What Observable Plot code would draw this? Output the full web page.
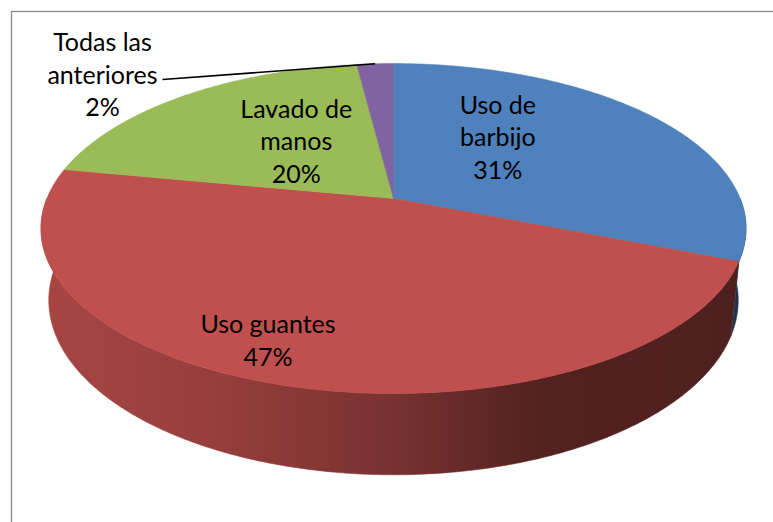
<!DOCTYPE html>
<html><head><meta charset="utf-8">
<script src="https://cdn.jsdelivr.net/npm/d3@7"></script>
<script src="https://cdn.jsdelivr.net/npm/@observablehq/plot@0.6"></script>
<style>
html,body{margin:0;padding:0;background:#fff;overflow:hidden}
#chart svg{display:block}
</style></head><body><div id="chart"></div>
<script>
// ---- data ----
const categories = ["Uso de barbijo", "Uso guantes", "Lavado de manos", "Todas las anteriores"];
const labelLines = [["Uso de", "barbijo"], ["Uso guantes"], ["Lavado de", "manos"], ["Todas las", "anteriores"]];
const values = [31, 47, 20, 2];
const colors = ["#4F81BD", "#C0504D", "#9BBB59", "#8064A2"];

// ---- layout / style ----
const W = 773, H = 522;
const geo = {cx: 393, cy: 198, rx: 346.6, ry: 159.5, k: 0.182, depth: 70, sb: 0.978};
const labelRadius = [0.5, 0.5, 0.5, 1];          // where each label is anchored on the slice
const labelNudge = [[-32, -20], [-72.5, 56.6], [14, -4], [-272.6, 9.7]];
const outside = [false, false, false, true];
const leaderStart = [-212.6, 15.7];              // leader line start relative to slice edge
const shading = [[0, 0.87], [0.25, 0.78], [0.5, 0.62], [0.7, 0.43], [1, 0.40]];
const fontFamily = "Lato, 'Open Sans', sans-serif";

// ---- geometry ----
function proj(t, r = 1) {
  const c = Math.cos(t), s = Math.sin(t);
  const w = 1 - geo.k * r * s;
  return {x: geo.cx + geo.rx * r * c / w, y: geo.cy + geo.ry * r * s / w, w};
}
function projBottom(t) {
  const p = proj(t, 1);
  return {x: geo.cx + (p.x - geo.cx) * geo.sb, y: geo.cy + (p.y - geo.cy) * geo.sb + geo.depth / p.w};
}
const total = d3.sum(values);
let acc = -Math.PI / 2;
const slices = values.map((v, i) => {
  const t0 = acc, t1 = acc + v / total * 2 * Math.PI;
  acc = t1;
  return {i, t0, t1, mid: (t0 + t1) / 2};
});
function arc(t0, t1, f) {
  const n = Math.max(2, Math.ceil(Math.abs(t1 - t0) / (Math.PI / 360)));
  return d3.range(n + 1).map(j => f(t0 + (t1 - t0) * j / n));
}
const topPolys = slices.map(s => [proj(0, 0), ...arc(s.t0, s.t1, t => proj(t)), proj(0, 0)]);
const sidePolys = slices.map(s => {
  const a = Math.max(s.t0, 0), b = Math.min(s.t1, Math.PI);
  if (b <= a) return null;
  return [...arc(a, b, t => proj(t)), ...arc(b, a, t => projBottom(t))];
});
const labels = slices.map(s => {
  const p = proj(s.mid, labelRadius[s.i]);
  return {x: p.x + labelNudge[s.i][0], y: p.y + labelNudge[s.i][1],
          text: [...labelLines[s.i], values[s.i] + "%"].join("\n"), ex: p.x, ey: p.y, i: s.i};
});
const leaders = labels.filter(d => outside[d.i]).map(d => ({x1: d.ex + leaderStart[0], y1: d.ey + leaderStart[1], x2: d.ex, y2: d.ey}));

// ---- marks ----
const marks = [];
marks.push(Plot.frame({stroke: "#8c8c8c", strokeWidth: 1.3, insetLeft: 11, insetTop: 11, insetRight: -20, insetBottom: -20}));
sidePolys.forEach((poly, i) => {
  if (!poly) return;
  marks.push(Plot.line(poly, {x: "x", y: "y", fill: `url(#side${i})`, stroke: `url(#side${i})`, strokeWidth: 0.6, curve: "linear"}));
});
topPolys.forEach((poly, i) => {
  marks.push(Plot.line(poly, {x: "x", y: "y", fill: colors[i], stroke: colors[i], strokeWidth: 0.6, curve: "linear"}));
});
marks.push(Plot.link(leaders, {x1: "x1", y1: "y1", x2: "x2", y2: "y2", stroke: "black", strokeWidth: 1.6}));
marks.push(Plot.text(labels, {x: "x", y: "y", text: "text", fontSize: 25, lineHeight: 1.3, textAnchor: "middle", lineAnchor: "middle", fill: "black", fontFamily}));

const chart = Plot.plot({
  width: W, height: H, margin: 0,
  x: {domain: [0, W], range: [0, W], axis: null},
  y: {domain: [0, H], range: [0, H], axis: null},
  style: {background: "white", fontFamily},
  marks
});

// side shading gradients (horizontal, across the pie)
const xs = chart.scale("x");
const halfW = geo.rx / Math.sqrt(1 - geo.k * geo.k);
const defs = d3.select(chart).insert("defs", ":first-child");
colors.forEach((c, i) => {
  const g = defs.append("linearGradient").attr("id", `side${i}`).attr("gradientUnits", "userSpaceOnUse")
    .attr("x1", xs.apply(geo.cx - halfW)).attr("x2", xs.apply(geo.cx + halfW)).attr("y1", 0).attr("y2", 0);
  const base = d3.rgb(c);
  shading.forEach(([o, f]) => {
    g.append("stop").attr("offset", o).attr("stop-color", d3.rgb(base.r * f, base.g * f, base.b * f).formatHex());
  });
});
document.getElementById("chart").appendChild(chart);
</script></body></html>
